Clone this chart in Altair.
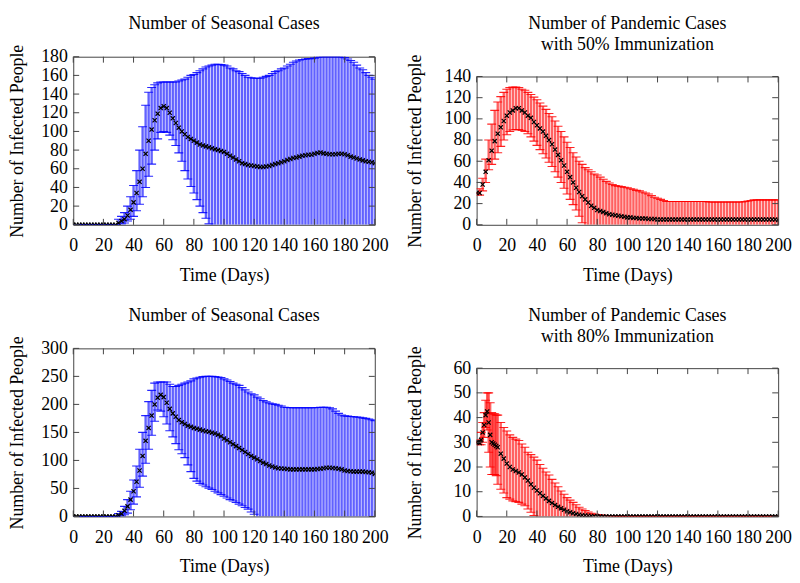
import altair as alt
import pandas as pd

FONT = "Liberation Serif"
BLUE = "#0000ff"
RED = "#ff0000"

X_TICKS = [0, 20, 40, 60, 80, 100, 120, 140, 160, 180, 200]

# ---- days (every 2 days; panel 4 daily for the first two weeks) ----
DAYS = list(range(0, 201, 2))
DAYS_P4 = list(range(0, 15)) + list(range(16, 201, 2))

# ---- Panel 1: Number of Seasonal Cases (top) ----
P1_MEAN = [
    0, 0, 0, 0, 0, 0, 0, 0, 0, 0,
    0, 0, 0, 0, 0, 2, 4, 6, 10, 16,
    24, 34, 46, 60, 76, 90, 102, 112, 119, 125,
    127, 125, 120, 114, 109, 104, 100, 97, 94, 92,
    90, 88, 86, 85, 84, 83, 82, 81, 80, 79,
    78, 76, 74, 72, 70, 68, 66, 65, 64, 63.5,
    63, 62.5, 62, 62, 62.5, 63, 64, 65, 66, 67,
    68, 69.5, 70.5, 71.5, 72, 73, 74, 74.5, 75, 75,
    76, 77, 77.5, 76.5, 76, 75.5, 75.5, 75.5, 76, 76,
    75.5, 74.5, 73, 72, 71, 70, 69, 68, 67.5, 67,
    66,
]
P1_HI = [
    0, 0, 0, 0, 0, 0, 0, 0, 0, 0,
    0, 0, 0, 0, 0, 6, 9, 13, 20, 30,
    42, 58, 80, 105, 128, 142, 147, 150, 152, 153,
    153, 153, 153, 153, 153, 154, 155, 156, 158, 160,
    161, 163, 165, 167, 169, 170, 171, 172, 172, 171.5,
    171, 170, 168, 167, 165, 164, 162, 160, 158, 157.5,
    157, 157, 157, 158, 159, 160, 162, 164, 165, 167,
    168, 170, 172, 174, 175.5, 176.5, 177, 177.5, 178, 178,
    178.5, 179.5, 180, 180, 180, 180, 180, 180, 180, 180,
    179, 177.5, 176, 174, 171, 168, 166, 163, 160, 158,
    156,
]
P1_LO = [
    0, 0, 0, 0, 0, 0, 0, 0, 0, 0,
    0, 0, 0, 0, 0, 0, 1, 2, 4, 6,
    9, 15, 22, 30, 40, 52, 65, 80, 92, 99,
    100, 99, 96, 91, 85, 77, 68, 58, 49, 41,
    34, 27, 20, 13, 7, 1, 0, 0, 0, 0,
    0, 0, 0, 0, 0, 0, 0, 0, 0, 0,
    0, 0, 0, 0, 0, 0, 0, 0, 0, 0,
    0, 0, 0, 0, 0, 0, 0, 0, 0, 0,
    0, 0, 0, 0, 0, 0, 0, 0, 0, 0,
    0, 0, 0, 0, 0, 0, 0, 0, 0, 0,
    0,
]

# ---- Panel 2: Pandemic Cases, 50% immunization ----
P2_MEAN = [
    30, 30, 38, 50, 61, 70, 79, 86, 92, 98,
    103, 106, 108, 110, 110, 108, 106, 103, 101, 97,
    94, 91, 88, 84, 80, 76, 71, 66, 61, 56,
    50, 45, 40, 35, 31, 27, 24, 21, 18, 16,
    14, 13, 12, 11, 10, 9.5, 9, 8.5, 8, 7.5,
    7, 7, 6.5, 6.5, 6, 6, 6, 5.5, 5.5, 5.5,
    5, 5, 5, 5, 5, 5, 5, 5, 5, 5,
    5, 5, 5, 5, 5, 5, 5, 5, 5, 5,
    5, 5, 5, 5, 5, 5, 5, 5, 5, 5,
    5, 5, 5, 5, 5, 5, 5, 5, 5, 5,
    4.5,
]
P2_HI = [
    30, 34, 44, 62, 80, 95, 108, 116, 121, 125,
    128, 129.5, 130, 130, 129.5, 128, 127, 125, 123, 120.5,
    118, 115, 112, 109, 105, 102, 98, 93, 88, 83,
    78, 73, 68, 64, 60, 57, 54, 52, 50, 48,
    47, 45, 43, 41, 39.5, 38, 37, 36.5, 36, 35.5,
    35, 34, 33.5, 32.5, 32, 31, 30, 29, 27.5, 26,
    25, 24, 23, 22, 22, 22, 22, 22, 22, 22,
    22, 22, 22, 22, 22, 22, 22, 21.5, 21.5, 21.5,
    21.5, 21.5, 21.5, 21.5, 21.5, 21.5, 21.5, 21.5, 21.5, 22,
    22.5, 23, 23.5, 23.5, 23.5, 23.5, 23.5, 23.5, 23.5, 23.5,
    23.5,
]
P2_LO = [
    30, 28, 32, 40, 52, 57, 62, 68, 74, 80,
    85, 88, 89.5, 90, 90, 89, 88, 86, 83, 79,
    75, 71, 67, 63, 59, 55, 50, 45, 40, 34.5,
    29, 24, 19, 14, 8, 2, 0, 0, 0, 0,
    0, 0, 0, 0, 0, 0, 0, 0, 0, 0,
    0, 0, 0, 0, 0, 0, 0, 0, 0, 0,
    0, 0, 0, 0, 0, 0, 0, 0, 0, 0,
    0, 0, 0, 0, 0, 0, 0, 0, 0, 0,
    0, 0, 0, 0, 0, 0, 0, 0, 0, 0,
    0, 0, 0, 0, 0, 0, 0, 0, 0, 0,
    0,
]

# ---- Panel 3: Number of Seasonal Cases (bottom) ----
P3_MEAN = [
    0, 0, 0, 0, 0, 0, 0, 0, 0, 0,
    0, 0, 0, 0, 0, 2, 5, 10, 18, 30,
    45, 62, 82, 108, 135, 158, 180, 200, 212, 217,
    213, 203, 192, 184, 178, 172, 168, 165, 162, 160,
    158, 156.5, 155, 153.5, 152, 151, 149.5, 148, 146, 143,
    139, 136, 132.5, 129, 125.5, 122, 118.5, 115, 111.5, 108,
    105, 102, 99, 96, 93.5, 91, 89, 87.5, 86, 85.5,
    85, 84.5, 84, 84, 84, 84, 84, 84, 84, 84,
    84, 84.5, 85, 86, 87, 87, 86.5, 86, 85, 84,
    82, 81, 80.5, 80, 80, 80, 80, 79.5, 79, 78,
    76,
]
P3_HI = [
    0, 0, 0, 0, 0, 0, 0, 0, 0, 0,
    0, 0, 0, 0, 0, 5, 9, 18, 30, 45,
    65, 90, 120, 150, 180, 205, 225, 238, 240, 240,
    240, 240, 236, 232, 232, 234, 236, 238, 240, 242,
    245.5, 247, 248.5, 249.5, 250, 250, 250, 249.5, 249, 248,
    245.5, 243.5, 241, 238, 236, 234, 230, 226, 222, 219,
    217, 213, 210, 207, 204.5, 202.5, 201, 200, 198.5, 197,
    195, 194.5, 194, 194, 194, 194, 194, 194, 194, 194,
    194, 194.5, 195, 195, 195, 194, 192, 188, 184, 181,
    179.5, 179, 178.5, 178, 177.5, 177, 176, 175, 174, 172.5,
    171,
]
P3_LO = [
    0, 0, 0, 0, 0, 0, 0, 0, 0, 0,
    0, 0, 0, 0, 0, 0, 1, 3, 6, 12,
    22, 35, 52, 72, 95, 120, 145, 170, 190, 188,
    178, 165, 153, 142, 130, 119, 112, 105, 92, 80,
    68, 63, 59, 56, 53, 50.5, 48, 45, 42, 39,
    36, 33, 30, 27.5, 25, 22, 19, 16, 13, 8,
    4, 0, 0, 0, 0, 0, 0, 0, 0, 0,
    0, 0, 0, 0, 0, 0, 0, 0, 0, 0,
    0, 0, 0, 0, 0, 0, 0, 0, 0, 0,
    0, 0, 0, 0, 0, 0, 0, 0, 0, 0,
    0,
]

# ---- Panel 4: Pandemic Cases, 80% immunization ----
P4_MEAN = [
    30, 30, 29.7, 31, 34, 37, 41, 42.5, 38, 33, 30, 29.5, 29, 28.5, 28,
    25.4, 23.4, 21.4, 20, 19, 18.4, 17.8, 17, 15.8, 14.5,
    13, 11.6, 10.5, 9.4, 8.3, 7.3, 6.3, 5.4, 4.6, 3.9,
    3.3, 2.7, 2.1, 1.7, 1.3, 1, 0.7, 0.5, 0.4, 0.3,
    0.2, 0.1, 0.1,
    0, 0, 0, 0, 0, 0, 0, 0, 0, 0,
    0, 0, 0, 0, 0, 0, 0, 0, 0, 0,
    0, 0, 0, 0, 0, 0, 0, 0, 0, 0,
    0, 0, 0, 0, 0, 0, 0, 0, 0, 0,
    0, 0, 0, 0, 0, 0, 0, 0, 0, 0,
    0, 0, 0, 0, 0, 0, 0, 0, 0, 0,
]
P4_HI = [
    30, 30, 31, 34, 38, 42, 47, 50, 50, 46, 42, 41.5, 41.5, 41, 41,
    38, 36, 34.6, 33, 32, 31.3, 30.7, 29.3, 28, 26,
    25, 24, 22.8, 21, 19.5, 18, 16.8, 15, 13.5, 12,
    10.3, 9, 7.6, 6.6, 5.7, 4.7, 3.7, 3, 2.4, 1.8,
    1.3, 1, 0.8,
    0.6, 0.5, 0.4, 0.35, 0.3, 0.2, 0.2, 0.2, 0.2, 0.2,
    0.2, 0.2, 0.2, 0.2, 0.2, 0.2, 0.2, 0.2, 0.2, 0.2,
    0.2, 0.2, 0.2, 0.2, 0.2, 0.2, 0.2, 0.2, 0.2, 0.2,
    0.2, 0.2, 0.2, 0.2, 0.2, 0.2, 0.2, 0.2, 0.2, 0.2,
    0.2, 0.2, 0.2, 0.2, 0.2, 0.2, 0.2, 0.2, 0.2, 0.2,
    0.2, 0.2, 0.2, 0.2, 0.2, 0.2, 0.2, 0.2, 0.2, 0.2,
]
P4_LO = [
    30, 30, 29, 29, 30, 32, 36, 35, 26, 20, 17, 17, 17, 16.5, 13,
    11, 9.5, 7.6, 7, 6.3, 6, 5.7, 5, 4.3, 3,
    1.7, 0.4, 0, 0, 0, 0, 0, 0, 0, 0,
    0, 0, 0, 0, 0, 0, 0, 0, 0, 0,
    0, 0, 0,
    0, 0, 0, 0, 0, 0, 0, 0, 0, 0,
    0, 0, 0, 0, 0, 0, 0, 0, 0, 0,
    0, 0, 0, 0, 0, 0, 0, 0, 0, 0,
    0, 0, 0, 0, 0, 0, 0, 0, 0, 0,
    0, 0, 0, 0, 0, 0, 0, 0, 0, 0,
    0, 0, 0, 0, 0, 0, 0, 0, 0, 0,
]

X_MARK = "M-1,-1L1,1M1,-1L-1,1"
TICK_LEN = 6
FRAME = "#444444"


def panel(days, mean, lo, hi, ymax, ystep, color, title, w, h, ytitle_pad, toff):
    df = pd.DataFrame({"day": days, "mean": mean, "lo": lo, "hi": hi})
    yticks = list(range(0, ymax + 1, ystep))
    xs = alt.Scale(domain=[0, 200], nice=False, zero=False)
    ys = alt.Scale(domain=[0, ymax], nice=False)
    xaxis = alt.Axis(title="Time (Days)", values=X_TICKS)
    yaxis = alt.Axis(title="Number of Infected People", values=yticks,
                     titlePadding=ytitle_pad)

    def X(f):
        return alt.X(f"{f}:Q", scale=xs, axis=xaxis)

    def Y(f):
        return alt.Y(f"{f}:Q", scale=ys, axis=yaxis)

    base = alt.Chart(df)
    bars = base.mark_rule(color=color, strokeWidth=2.4, opacity=0.62, clip=True).encode(
        x=X("day"), y=Y("lo"), y2="hi:Q"
    )
    up = base.mark_tick(orient="horizontal", color=color, size=9, thickness=1.1,
                        opacity=0.85, clip=True).encode(x=X("day"), y=Y("hi"))
    low = base.transform_filter("datum.lo > 0").mark_tick(
        orient="horizontal", color=color, size=9, thickness=1.1, opacity=0.85, clip=True
    ).encode(x=X("day"), y=Y("lo"))
    pts = base.mark_point(shape=X_MARK, size=18, color="black", filled=False,
                          strokeWidth=1.2, opacity=1, clip=True).encode(x=X("day"), y=Y("mean"))

    xt = alt.Chart(pd.DataFrame({"t": X_TICKS}))
    yt = alt.Chart(pd.DataFrame({"t": yticks}))
    tb = xt.mark_rule(color=FRAME, strokeWidth=1).encode(
        x=X("t"), y=alt.value(h), y2=alt.value(h - TICK_LEN))
    tt = xt.mark_rule(color=FRAME, strokeWidth=1).encode(
        x=X("t"), y=alt.value(0), y2=alt.value(TICK_LEN))
    tl = yt.mark_rule(color=FRAME, strokeWidth=1).encode(
        y=Y("t"), x=alt.value(0), x2=alt.value(TICK_LEN))
    tr = yt.mark_rule(color=FRAME, strokeWidth=1).encode(
        y=Y("t"), x=alt.value(w), x2=alt.value(w - TICK_LEN))

    return alt.layer(bars, up, low, pts, tb, tt, tl, tr).properties(
        width=w, height=h,
        title=alt.TitleParams(title, font=FONT, fontSize=18, fontWeight="normal",
                              color="black", anchor="middle", frame="group",
                              offset=toff, lineHeight=21),
    )


def spacer(h):
    # invisible layout helper: sets the vertical flow of each column
    return alt.Chart(pd.DataFrame({"a": [0]})).mark_rule(opacity=0).encode(
        x=alt.value(0), y=alt.value(0), y2=alt.value(h)
    ).properties(width=1, height=max(h, 1),
                 view=alt.ViewBackground(stroke="transparent"))


p1 = panel(DAYS, P1_MEAN, P1_LO, P1_HI, 180, 20, BLUE, "Number of Seasonal Cases",
           305, 170, 14, 11)
p2 = panel(DAYS, P2_MEAN, P2_LO, P2_HI, 140, 20, RED,
           ["Number of Pandemic Cases", "with 50% Immunization"], 305, 150, 20, 0)
p3 = panel(DAYS, P3_MEAN, P3_LO, P3_HI, 300, 50, BLUE, "Number of Seasonal Cases",
           305, 170, 14, 11)
p4 = panel(DAYS_P4, P4_MEAN, P4_LO, P4_HI, 60, 10, RED,
           ["Number of Pandemic Cases", "with 80% Immunization"], 305, 150, 29, 0)

GAP = 19
col1 = alt.vconcat(spacer(0), p1, spacer(GAP), p3, spacing=0)
col2 = alt.vconcat(spacer(0), p2, spacer(GAP), p4, spacing=0)

chart = alt.hconcat(col1, col2, spacing=17).properties(
    padding=0, background="white"
).configure_view(stroke=FRAME, strokeWidth=1).configure_axis(
    labelFont=FONT, titleFont=FONT, labelFontSize=18, titleFontSize=18,
    labelColor="black", titleColor="black", titleFontWeight="normal",
    grid=False, domain=False, ticks=False, tickSize=0,
    labelOverlap=False, labelFlush=False,
).configure_axisX(labelPadding=12, titlePadding=12).configure_axisY(
    labelPadding=6)

chart.save("out.html", embed_options={"renderer": "svg", "actions": False})
